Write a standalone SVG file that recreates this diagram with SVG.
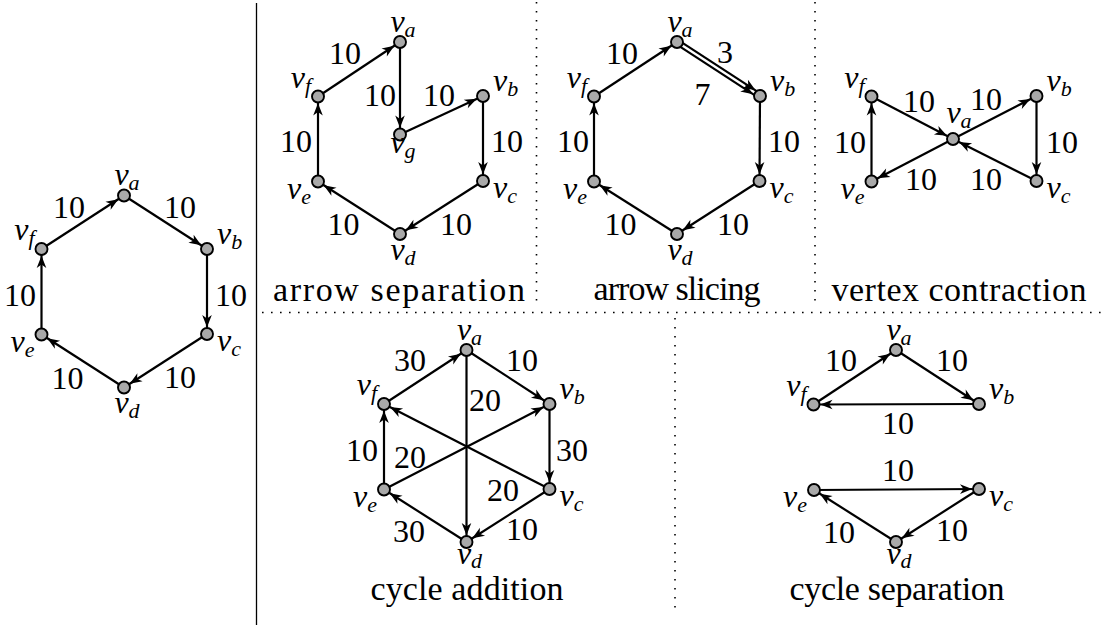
<svg xmlns="http://www.w3.org/2000/svg" width="1104" height="625" viewBox="0 0 1104 625">
<defs>
<marker id="ah" markerUnits="userSpaceOnUse" viewBox="-22 -7 24 14" refX="0" refY="0" markerWidth="24" markerHeight="14" orient="auto">
<path d="M-6.8,0 L-19,-4.8 L-15.5,0 L-19,4.8 Z" fill="#000"/>
</marker>
<circle id="nd" r="6" fill="#a9a9a9" stroke="#000" stroke-width="1.9"/>
</defs>
<rect width="1104" height="625" fill="#fff"/>
<g id="dividers" stroke="#000">
<line stroke-width="1.3" x1="256.5" y1="3" x2="256.5" y2="625"/>
<g stroke-width="1.6" stroke-dasharray="1.6 7.4">
<line x1="536.5" y1="2" x2="536.5" y2="302"/>
<line x1="815" y1="2" x2="815" y2="302"/>
<line x1="262" y1="312.5" x2="1104" y2="312.5"/>
<line x1="675" y1="318" x2="675" y2="612"/>
</g>
</g>
<g id="connectors" stroke="#000" stroke-width="2.2" fill="none">
<line marker-end="url(#ah)" x1="41.5" y1="249" x2="124" y2="195.5"/>
<line marker-end="url(#ah)" x1="124" y1="195.5" x2="207" y2="249"/>
<line marker-end="url(#ah)" x1="207" y1="249" x2="207" y2="334"/>
<line marker-end="url(#ah)" x1="207" y1="334" x2="124" y2="387.5"/>
<line marker-end="url(#ah)" x1="124" y1="387.5" x2="41.5" y2="334.5"/>
<line marker-end="url(#ah)" x1="41.5" y1="334.5" x2="41.5" y2="249"/>
<line marker-end="url(#ah)" x1="318" y1="96.5" x2="400" y2="42"/>
<line marker-end="url(#ah)" x1="400" y1="42" x2="400" y2="134.5"/>
<line marker-end="url(#ah)" x1="400" y1="134.5" x2="483" y2="96"/>
<line marker-end="url(#ah)" x1="483" y1="96" x2="483" y2="181"/>
<line marker-end="url(#ah)" x1="483" y1="181" x2="400" y2="234"/>
<line marker-end="url(#ah)" x1="400" y1="234" x2="318" y2="181.5"/>
<line marker-end="url(#ah)" x1="318" y1="181.5" x2="318" y2="96.5"/>
<line marker-end="url(#ah)" x1="594" y1="96.5" x2="677" y2="42"/>
<line marker-end="url(#ah)" x1="675.75" y1="43.93" x2="758.75" y2="97.93"/>
<line marker-end="url(#ah)" x1="678.25" y1="40.07" x2="761.25" y2="94.07"/>
<line marker-end="url(#ah)" x1="760" y1="96" x2="759.5" y2="181"/>
<line marker-end="url(#ah)" x1="759.5" y1="181" x2="677" y2="234"/>
<line marker-end="url(#ah)" x1="677" y1="234" x2="594" y2="181.5"/>
<line marker-end="url(#ah)" x1="594" y1="181.5" x2="594" y2="96.5"/>
<line marker-end="url(#ah)" x1="871.5" y1="96.5" x2="953" y2="139"/>
<line marker-end="url(#ah)" x1="953" y1="139" x2="1036.5" y2="96"/>
<line marker-end="url(#ah)" x1="1036.5" y1="96" x2="1036.5" y2="181"/>
<line marker-end="url(#ah)" x1="1036.5" y1="181" x2="953" y2="139"/>
<line marker-end="url(#ah)" x1="953" y1="139" x2="871.5" y2="181.5"/>
<line marker-end="url(#ah)" x1="871.5" y1="181.5" x2="871.5" y2="96.5"/>
<line marker-end="url(#ah)" x1="384" y1="404" x2="466.5" y2="350"/>
<line marker-end="url(#ah)" x1="466.5" y1="350" x2="549.5" y2="404"/>
<line marker-end="url(#ah)" x1="549.5" y1="404" x2="549.5" y2="489"/>
<line marker-end="url(#ah)" x1="549.5" y1="489" x2="466.5" y2="542"/>
<line marker-end="url(#ah)" x1="466.5" y1="542" x2="384" y2="489.5"/>
<line marker-end="url(#ah)" x1="384" y1="489.5" x2="384" y2="404"/>
<line marker-end="url(#ah)" x1="466.5" y1="350" x2="466.5" y2="542"/>
<line marker-end="url(#ah)" x1="384" y1="489.5" x2="549.5" y2="404"/>
<line marker-end="url(#ah)" x1="549.5" y1="489" x2="384" y2="404"/>
<line marker-end="url(#ah)" x1="813.5" y1="404.5" x2="896" y2="350"/>
<line marker-end="url(#ah)" x1="896" y1="350" x2="979" y2="404"/>
<line marker-end="url(#ah)" x1="979" y1="404" x2="813.5" y2="404.5"/>
<line marker-end="url(#ah)" x1="814" y1="490" x2="979" y2="489"/>
<line marker-end="url(#ah)" x1="979" y1="489" x2="896" y2="542"/>
<line marker-end="url(#ah)" x1="896" y1="542" x2="814" y2="490"/>
</g>
<g id="edge-labels" text-anchor="middle">
<text x="69" y="218" style="font-family:'Liberation Serif';font-size:32px">10</text>
<text x="180" y="218" style="font-family:'Liberation Serif';font-size:32px">10</text>
<text x="231" y="306" style="font-family:'Liberation Serif';font-size:32px">10</text>
<text x="20" y="306" style="font-family:'Liberation Serif';font-size:32px">10</text>
<text x="67.5" y="388.5" style="font-family:'Liberation Serif';font-size:32px">10</text>
<text x="180" y="388" style="font-family:'Liberation Serif';font-size:32px">10</text>
<text x="345" y="64" style="font-family:'Liberation Serif';font-size:32px">10</text>
<text x="380" y="106" style="font-family:'Liberation Serif';font-size:32px">10</text>
<text x="439" y="106" style="font-family:'Liberation Serif';font-size:32px">10</text>
<text x="507" y="152" style="font-family:'Liberation Serif';font-size:32px">10</text>
<text x="296" y="152" style="font-family:'Liberation Serif';font-size:32px">10</text>
<text x="343.5" y="235" style="font-family:'Liberation Serif';font-size:32px">10</text>
<text x="456" y="234.5" style="font-family:'Liberation Serif';font-size:32px">10</text>
<text x="622" y="64" style="font-family:'Liberation Serif';font-size:32px">10</text>
<text x="725" y="63" style="font-family:'Liberation Serif';font-size:32px">3</text>
<text x="702.5" y="105" style="font-family:'Liberation Serif';font-size:32px">7</text>
<text x="784" y="152" style="font-family:'Liberation Serif';font-size:32px">10</text>
<text x="573" y="152" style="font-family:'Liberation Serif';font-size:32px">10</text>
<text x="620.5" y="235" style="font-family:'Liberation Serif';font-size:32px">10</text>
<text x="733" y="234.5" style="font-family:'Liberation Serif';font-size:32px">10</text>
<text x="919" y="112" style="font-family:'Liberation Serif';font-size:32px">10</text>
<text x="986" y="110" style="font-family:'Liberation Serif';font-size:32px">10</text>
<text x="1062" y="153" style="font-family:'Liberation Serif';font-size:32px">10</text>
<text x="850" y="153" style="font-family:'Liberation Serif';font-size:32px">10</text>
<text x="921" y="190" style="font-family:'Liberation Serif';font-size:32px">10</text>
<text x="986" y="190" style="font-family:'Liberation Serif';font-size:32px">10</text>
<text x="410" y="371" style="font-family:'Liberation Serif';font-size:32px">30</text>
<text x="522" y="371" style="font-family:'Liberation Serif';font-size:32px">10</text>
<text x="485" y="411" style="font-family:'Liberation Serif';font-size:32px">20</text>
<text x="572" y="461" style="font-family:'Liberation Serif';font-size:32px">30</text>
<text x="362" y="461" style="font-family:'Liberation Serif';font-size:32px">10</text>
<text x="410" y="468" style="font-family:'Liberation Serif';font-size:32px">20</text>
<text x="503" y="501" style="font-family:'Liberation Serif';font-size:32px">20</text>
<text x="522" y="540" style="font-family:'Liberation Serif';font-size:32px">10</text>
<text x="409" y="542" style="font-family:'Liberation Serif';font-size:32px">30</text>
<text x="841" y="371" style="font-family:'Liberation Serif';font-size:32px">10</text>
<text x="952" y="371" style="font-family:'Liberation Serif';font-size:32px">10</text>
<text x="898" y="434" style="font-family:'Liberation Serif';font-size:32px">10</text>
<text x="898" y="481" style="font-family:'Liberation Serif';font-size:32px">10</text>
<text x="952" y="541" style="font-family:'Liberation Serif';font-size:32px">10</text>
<text x="839" y="543" style="font-family:'Liberation Serif';font-size:32px">10</text>
</g>
<g id="g0-va"><use href="#nd" x="124" y="195.5"/><text x="127" y="185" text-anchor="middle" style="font-family:'Liberation Serif';font-size:32px;font-style:italic">v<tspan dy="5" style="font-size:22px">a</tspan></text></g>
<g id="g0-vb"><use href="#nd" x="207" y="249"/><text x="217" y="244" style="font-family:'Liberation Serif';font-size:32px;font-style:italic">v<tspan dy="5" style="font-size:22px">b</tspan></text></g>
<g id="g0-vc"><use href="#nd" x="207" y="334"/><text x="217" y="351" style="font-family:'Liberation Serif';font-size:32px;font-style:italic">v<tspan dy="5" style="font-size:22px">c</tspan></text></g>
<g id="g0-vd"><use href="#nd" x="124" y="387.5"/><text x="127" y="413" text-anchor="middle" style="font-family:'Liberation Serif';font-size:32px;font-style:italic">v<tspan dy="5" style="font-size:22px">d</tspan></text></g>
<g id="g0-ve"><use href="#nd" x="41.5" y="334.5"/><text x="34.5" y="351.5" text-anchor="end" style="font-family:'Liberation Serif';font-size:32px;font-style:italic">v<tspan dy="5" style="font-size:22px">e</tspan></text></g>
<g id="g0-vf"><use href="#nd" x="41.5" y="249"/><text x="34.5" y="240" text-anchor="end" style="font-family:'Liberation Serif';font-size:32px;font-style:italic">v<tspan dy="5" style="font-size:22px">f</tspan></text></g>
<g id="g1-va"><use href="#nd" x="400" y="42"/><text x="403" y="31.5" text-anchor="middle" style="font-family:'Liberation Serif';font-size:32px;font-style:italic">v<tspan dy="5" style="font-size:22px">a</tspan></text></g>
<g id="g1-vb"><use href="#nd" x="483" y="96"/><text x="493" y="91" style="font-family:'Liberation Serif';font-size:32px;font-style:italic">v<tspan dy="5" style="font-size:22px">b</tspan></text></g>
<g id="g1-vc"><use href="#nd" x="483" y="181"/><text x="493" y="198" style="font-family:'Liberation Serif';font-size:32px;font-style:italic">v<tspan dy="5" style="font-size:22px">c</tspan></text></g>
<g id="g1-vd"><use href="#nd" x="400" y="234"/><text x="403" y="259.5" text-anchor="middle" style="font-family:'Liberation Serif';font-size:32px;font-style:italic">v<tspan dy="5" style="font-size:22px">d</tspan></text></g>
<g id="g1-ve"><use href="#nd" x="318" y="181.5"/><text x="311" y="198.5" text-anchor="end" style="font-family:'Liberation Serif';font-size:32px;font-style:italic">v<tspan dy="5" style="font-size:22px">e</tspan></text></g>
<g id="g1-vf"><use href="#nd" x="318" y="96.5"/><text x="311" y="87.5" text-anchor="end" style="font-family:'Liberation Serif';font-size:32px;font-style:italic">v<tspan dy="5" style="font-size:22px">f</tspan></text></g>
<g id="g1-vg"><use href="#nd" x="400" y="134.5"/><text x="403" y="153" text-anchor="middle" style="font-family:'Liberation Serif';font-size:32px;font-style:italic">v<tspan dy="5" style="font-size:22px">g</tspan></text></g>
<g id="g2-va"><use href="#nd" x="677" y="42"/><text x="680" y="31.5" text-anchor="middle" style="font-family:'Liberation Serif';font-size:32px;font-style:italic">v<tspan dy="5" style="font-size:22px">a</tspan></text></g>
<g id="g2-vb"><use href="#nd" x="760" y="96"/><text x="770" y="91" style="font-family:'Liberation Serif';font-size:32px;font-style:italic">v<tspan dy="5" style="font-size:22px">b</tspan></text></g>
<g id="g2-vc"><use href="#nd" x="759.5" y="181"/><text x="769.5" y="198" style="font-family:'Liberation Serif';font-size:32px;font-style:italic">v<tspan dy="5" style="font-size:22px">c</tspan></text></g>
<g id="g2-vd"><use href="#nd" x="677" y="234"/><text x="680" y="259.5" text-anchor="middle" style="font-family:'Liberation Serif';font-size:32px;font-style:italic">v<tspan dy="5" style="font-size:22px">d</tspan></text></g>
<g id="g2-ve"><use href="#nd" x="594" y="181.5"/><text x="587" y="198.5" text-anchor="end" style="font-family:'Liberation Serif';font-size:32px;font-style:italic">v<tspan dy="5" style="font-size:22px">e</tspan></text></g>
<g id="g2-vf"><use href="#nd" x="594" y="96.5"/><text x="587" y="87.5" text-anchor="end" style="font-family:'Liberation Serif';font-size:32px;font-style:italic">v<tspan dy="5" style="font-size:22px">f</tspan></text></g>
<g id="g3-va"><use href="#nd" x="953" y="139"/><text x="959" y="123" text-anchor="middle" style="font-family:'Liberation Serif';font-size:32px;font-style:italic">v<tspan dy="5" style="font-size:22px">a</tspan></text></g>
<g id="g3-vb"><use href="#nd" x="1036.5" y="96"/><text x="1046.5" y="91" style="font-family:'Liberation Serif';font-size:32px;font-style:italic">v<tspan dy="5" style="font-size:22px">b</tspan></text></g>
<g id="g3-vc"><use href="#nd" x="1036.5" y="181"/><text x="1046.5" y="198" style="font-family:'Liberation Serif';font-size:32px;font-style:italic">v<tspan dy="5" style="font-size:22px">c</tspan></text></g>
<g id="g3-ve"><use href="#nd" x="871.5" y="181.5"/><text x="864.5" y="198.5" text-anchor="end" style="font-family:'Liberation Serif';font-size:32px;font-style:italic">v<tspan dy="5" style="font-size:22px">e</tspan></text></g>
<g id="g3-vf"><use href="#nd" x="871.5" y="96.5"/><text x="864.5" y="87.5" text-anchor="end" style="font-family:'Liberation Serif';font-size:32px;font-style:italic">v<tspan dy="5" style="font-size:22px">f</tspan></text></g>
<g id="g4-va"><use href="#nd" x="466.5" y="350"/><text x="469.5" y="339.5" text-anchor="middle" style="font-family:'Liberation Serif';font-size:32px;font-style:italic">v<tspan dy="5" style="font-size:22px">a</tspan></text></g>
<g id="g4-vb"><use href="#nd" x="549.5" y="404"/><text x="559.5" y="399" style="font-family:'Liberation Serif';font-size:32px;font-style:italic">v<tspan dy="5" style="font-size:22px">b</tspan></text></g>
<g id="g4-vc"><use href="#nd" x="549.5" y="489"/><text x="559.5" y="506" style="font-family:'Liberation Serif';font-size:32px;font-style:italic">v<tspan dy="5" style="font-size:22px">c</tspan></text></g>
<g id="g4-vd"><use href="#nd" x="466.5" y="542"/><text x="469.5" y="564" text-anchor="middle" style="font-family:'Liberation Serif';font-size:32px;font-style:italic">v<tspan dy="4" style="font-size:22px">d</tspan></text></g>
<g id="g4-ve"><use href="#nd" x="384" y="489.5"/><text x="377" y="506.5" text-anchor="end" style="font-family:'Liberation Serif';font-size:32px;font-style:italic">v<tspan dy="5" style="font-size:22px">e</tspan></text></g>
<g id="g4-vf"><use href="#nd" x="384" y="404"/><text x="377" y="395" text-anchor="end" style="font-family:'Liberation Serif';font-size:32px;font-style:italic">v<tspan dy="5" style="font-size:22px">f</tspan></text></g>
<g id="g5-va"><use href="#nd" x="896" y="350"/><text x="899" y="339.5" text-anchor="middle" style="font-family:'Liberation Serif';font-size:32px;font-style:italic">v<tspan dy="5" style="font-size:22px">a</tspan></text></g>
<g id="g5-vb"><use href="#nd" x="979" y="404"/><text x="989" y="399" style="font-family:'Liberation Serif';font-size:32px;font-style:italic">v<tspan dy="5" style="font-size:22px">b</tspan></text></g>
<g id="g5-vc"><use href="#nd" x="979" y="489"/><text x="989" y="506" style="font-family:'Liberation Serif';font-size:32px;font-style:italic">v<tspan dy="5" style="font-size:22px">c</tspan></text></g>
<g id="g5-vd"><use href="#nd" x="896" y="542"/><text x="899" y="564" text-anchor="middle" style="font-family:'Liberation Serif';font-size:32px;font-style:italic">v<tspan dy="4" style="font-size:22px">d</tspan></text></g>
<g id="g5-ve"><use href="#nd" x="814" y="490"/><text x="807" y="507" text-anchor="end" style="font-family:'Liberation Serif';font-size:32px;font-style:italic">v<tspan dy="5" style="font-size:22px">e</tspan></text></g>
<g id="g5-vf"><use href="#nd" x="813.5" y="404.5"/><text x="806.5" y="395.5" text-anchor="end" style="font-family:'Liberation Serif';font-size:32px;font-style:italic">v<tspan dy="5" style="font-size:22px">f</tspan></text></g>
<g id="captions" text-anchor="middle">
<text x="399" y="301" textLength="252" style="font-family:'Liberation Serif';font-size:34px">arrow separation</text>
<text x="677" y="300" textLength="167" style="font-family:'Liberation Serif';font-size:34px">arrow slicing</text>
<text x="959" y="301" textLength="255" style="font-family:'Liberation Serif';font-size:34px">vertex contraction</text>
<text x="467" y="600" textLength="193" style="font-family:'Liberation Serif';font-size:34px">cycle addition</text>
<text x="897" y="600" textLength="215" style="font-family:'Liberation Serif';font-size:34px">cycle separation</text>
</g>
</svg>
